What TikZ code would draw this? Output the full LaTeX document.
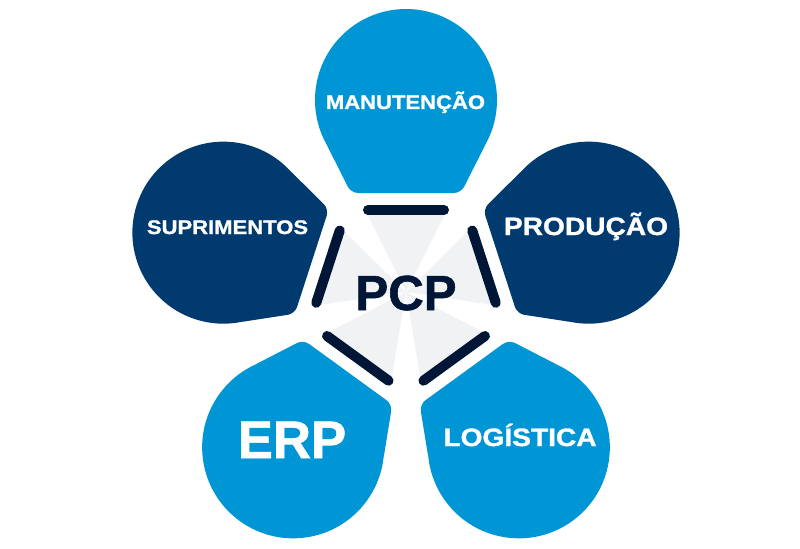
\documentclass[tikz,border=0pt]{standalone}
\usepackage{fontspec}
\setmainfont{Liberation Sans}[BoldFeatures={FakeBold=1.2}]
\newfontfamily\widefont{Liberation Sans}[FakeStretch=1.12, BoldFeatures={FakeBold=1.2}]

\definecolor{lightpetal}{HTML}{0096D6}
\definecolor{darkpetal}{HTML}{003A6E}
\definecolor{barnavy}{HTML}{001636}
\definecolor{wedgegray}{HTML}{F1F2F4}

\tikzset{
  barline/.style={draw=barnavy, line width=5.7pt, line cap=round},
  smalltext/.style={text=white, anchor=base, font=\widefont\bfseries\fontsize{11.2}{13}\selectfont},
  midtext/.style={text=white, anchor=base, font=\widefont\bfseries\fontsize{14.3}{16}\selectfont},
}

\begin{document}
\begin{tikzpicture}[x=0.02cm,y=0.02cm]

\useasboundingbox (-406,-256) rectangle (394,292);

% wedges, bars and petals
\foreach \ang/\col in {90/lightpetal,162/darkpetal,18/darkpetal,234/lightpetal,306/lightpetal} {
  \begin{scope}[rotate=\ang-90]
    \fill [wedgegray] (0,0) -- (-42,84) -- (42,84) -- cycle;
    \draw [barline] (-38,82) -- (38,82);
    \begin{scope}[shift={(0,192)}]
      \fill [\col] (0,0) circle (91);
      \fill [\col, rounded corners=4pt]
      (0,0) --
      (-81.2,-41) --
      (-55,-93) --
      (55,-93) --
      (81.2,-41) -- cycle;
    \end{scope}
  \end{scope}
}

% labels
\node [smalltext] (manut) at (-0.5,183) {MANUTENÇÃO};
\node [smalltext] (supri) at (-178.5,58) {SUPRIMENTOS};
\node [midtext] (prod) at (180,57) {PRODUÇÃO};
\node [midtext] (logi) at (114,-154) {LOGÍSTICA};
\node [anchor=base, text=white, font=\bfseries\fontsize{30}{32}\selectfont] (erp) at (-114,-166) {ERP};

% center
\node [anchor=base, text=barnavy, font=\bfseries\fontsize{28}{30}\selectfont] (pcp) at (0,-18) {PCP};

\end{tikzpicture}
\end{document}
